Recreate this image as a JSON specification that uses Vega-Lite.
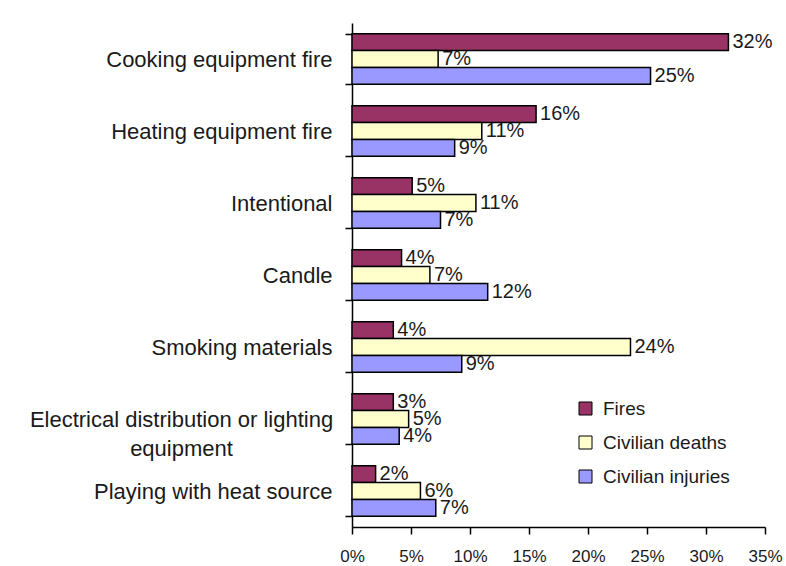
{
  "$schema": "https://vega.github.io/schema/vega-lite/v6.json",
  "width": 413,
  "height": 504,
  "autosize": "none",
  "padding": {"left": 352, "top": 23, "right": 21, "bottom": 39},
  "background": "white",
  "config": {
    "view": {"stroke": null},
    "font": "Liberation Sans",
    "text": {"font": "Liberation Sans"}
  },
  "data": {
    "values": [
      {"cause": "Cooking equipment fire", "series": "Fires", "value": 31.9, "label": "32%"},
      {"cause": "Cooking equipment fire", "series": "Civilian deaths", "value": 7.3, "label": "7%"},
      {"cause": "Cooking equipment fire", "series": "Civilian injuries", "value": 25.3, "label": "25%"},
      {"cause": "Heating equipment fire", "series": "Fires", "value": 15.6, "label": "16%"},
      {"cause": "Heating equipment fire", "series": "Civilian deaths", "value": 11.0, "label": "11%"},
      {"cause": "Heating equipment fire", "series": "Civilian injuries", "value": 8.7, "label": "9%"},
      {"cause": "Intentional", "series": "Fires", "value": 5.1, "label": "5%"},
      {"cause": "Intentional", "series": "Civilian deaths", "value": 10.5, "label": "11%"},
      {"cause": "Intentional", "series": "Civilian injuries", "value": 7.5, "label": "7%"},
      {"cause": "Candle", "series": "Fires", "value": 4.2, "label": "4%"},
      {"cause": "Candle", "series": "Civilian deaths", "value": 6.6, "label": "7%"},
      {"cause": "Candle", "series": "Civilian injuries", "value": 11.5, "label": "12%"},
      {"cause": "Smoking materials", "series": "Fires", "value": 3.5, "label": "4%"},
      {"cause": "Smoking materials", "series": "Civilian deaths", "value": 23.6, "label": "24%"},
      {"cause": "Smoking materials", "series": "Civilian injuries", "value": 9.3, "label": "9%"},
      {"cause": "Electrical distribution or lighting equipment", "series": "Fires", "value": 3.5, "label": "3%"},
      {"cause": "Electrical distribution or lighting equipment", "series": "Civilian deaths", "value": 4.8, "label": "5%"},
      {"cause": "Electrical distribution or lighting equipment", "series": "Civilian injuries", "value": 4.0, "label": "4%"},
      {"cause": "Playing with heat source", "series": "Fires", "value": 2.0, "label": "2%"},
      {"cause": "Playing with heat source", "series": "Civilian deaths", "value": 5.8, "label": "6%"},
      {"cause": "Playing with heat source", "series": "Civilian injuries", "value": 7.1, "label": "7%"}
    ]
  },
  "encoding": {
    "y": {
      "field": "cause",
      "type": "nominal",
      "sort": null,
      "scale": {"paddingInner": 0.3, "paddingOuter": 0.15},
      "axis": {
        "title": null,
        "domainColor": "black",
        "domainWidth": 1.5,
        "tickColor": "black",
        "tickWidth": 1.5,
        "tickSize": 7,
        "tickBand": "extent",
        "labelFontSize": 22,
        "labelColor": "#1a1a1a",
        "labelPadding": {"condition": {"test": "datum.value == 'Electrical distribution or lighting equipment'", "value": 164}, "value": 13},
        "labelAlign": {"condition": {"test": "datum.value == 'Electrical distribution or lighting equipment'", "value": "center"}, "value": "right"},
        "labelLineHeight": 29,
        "labelLimit": 400,
        "labelExpr": "datum.value == 'Electrical distribution or lighting equipment' ? ['Electrical distribution or lighting', 'equipment'] : datum.value"
      }
    },
    "yOffset": {
      "field": "series",
      "type": "nominal",
      "sort": ["Fires", "Civilian deaths", "Civilian injuries"],
      "scale": {"paddingInner": 0, "paddingOuter": 0}
    },
    "x": {
      "field": "value",
      "type": "quantitative",
      "scale": {"domain": [0, 35], "nice": false},
      "axis": {
        "title": null,
        "grid": false,
        "values": [0, 5, 10, 15, 20, 25, 30, 35],
        "labelExpr": "datum.value + '%'",
        "domainColor": "black",
        "domainWidth": 1.5,
        "tickColor": "black",
        "tickWidth": 1.5,
        "tickSize": 7,
        "labelFontSize": 17,
        "labelColor": "#1a1a1a",
        "labelPadding": 14,
        "labelFlush": false,
        "labelOverlap": false
      }
    }
  },
  "layer": [
    {
      "mark": {"type": "text", "align": "left", "baseline": "middle", "dx": 4, "fontSize": 20, "color": "#1a1a1a"},
      "encoding": {"text": {"field": "label"}}
    },
    {
      "mark": {"type": "bar", "stroke": "black", "strokeWidth": 1.5},
      "encoding": {
        "color": {
          "field": "series",
          "type": "nominal",
          "sort": ["Fires", "Civilian deaths", "Civilian injuries"],
          "scale": {
            "domain": ["Fires", "Civilian deaths", "Civilian injuries"],
            "range": ["#993366", "#FFFFCC", "#9999FF"]
          },
          "legend": {
            "title": null,
            "orient": "none",
            "legendX": 224,
            "legendY": 376,
            "symbolType": "square",
            "symbolSize": 169,
            "symbolStrokeColor": "black",
            "symbolStrokeWidth": 1,
            "symbolOpacity": 1,
            "labelFontSize": 19,
            "labelColor": "#1a1a1a",
            "labelOffset": 8,
            "rowPadding": 14
          }
        }
      }
    }
  ]
}
